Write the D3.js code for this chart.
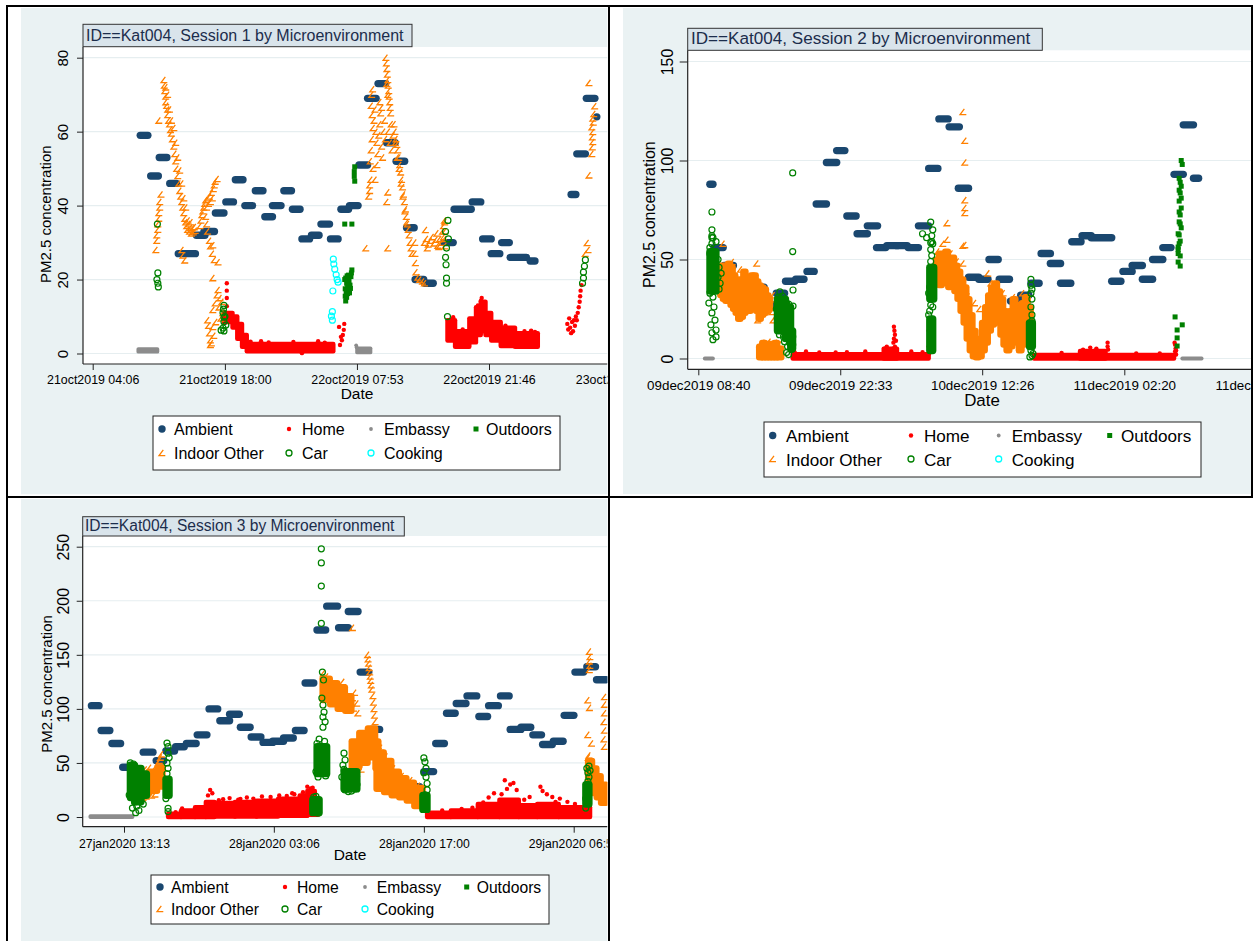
<!DOCTYPE html>
<html>
<head>
<meta charset="utf-8">
<script src="https://cdn.jsdelivr.net/npm/d3@7"></script>
<style>
  body { margin: 0; background: #fff; }
  svg { display: block; }
</style>
</head>
<body>
<svg id="chart" width="1254" height="941"></svg>
<script>
// PM2.5 by microenvironment, participant Kat004, three sessions.
// Times are hours since midnight of each session's first day.
// Ambient readings: [startHour, endHour, value]; bands: [startHour, endHour, low, high]
// for stretches where minute readings pile up into a solid mass; points: [hour, value].

// ---------- Session 1 (21-23 Oct 2019) ----------
const s1TickHours = [4.1, 18.0, 31.883, 45.767, 59.65];
const s1TickLabels = ["21oct2019 04:06", "21oct2019 18:00", "22oct2019 07:53", "22oct2019 21:46", "23oct2019 11:39"];
const s1YTicks = [0, 20, 40, 60, 80];

const s1Ambient = [[9.1,9.9,59],[10.2,11.0,48],[11.1,11.9,53],[12.2,12.9,46],[13.1,14.9,27],[15.0,15.9,32],[15.8,16.9,33],[17.0,17.9,38],[18.1,18.9,41],[19.1,19.9,47],[20.1,20.9,40],[21.2,22.0,44],[22.2,23.0,37],[23.0,23.9,40],[24.2,25.0,44],[25.1,25.9,39],[26.1,26.9,31],[27.1,27.9,32],[28.1,29.0,35],[29.1,29.9,31],[30.2,31.0,39],[31.1,32.0,40],[32.1,33.0,51],[33.0,33.9,69],[34.1,34.9,73],[35.0,35.9,57],[36.0,36.9,52],[37.1,37.9,34],[38.0,38.9,20],[39.0,39.9,19],[41.0,42.0,30],[42.1,43.9,39],[44.0,44.9,41],[45.1,46.0,31],[46.0,46.9,27],[47.1,47.9,30],[48.0,49.7,26],[50.1,50.6,25],[54.4,54.9,43],[55.0,55.9,54],[56.0,56.9,69],[57.1,57.1,64]];
const s1HomeBands = [[17.9,18.8,8.5,11],[18.8,19.3,7,10],[19.3,19.8,4,8],[19.8,20.3,1.8,5],[20.3,29.4,0.6,2.6],[41.4,42.2,3.5,9],[42.2,43.7,1.8,6],[43.7,44.4,3,9.5],[44.4,44.9,5,12.5],[44.9,45.4,6,14],[45.4,46.0,5,11],[46.0,47.0,3.5,8.5],[47.0,48.5,2,7],[48.5,50.9,1.8,5.5]];
const s1HomePts = [[18.2,19],[18.2,17],[18.2,15],[18.2,12.8],[20.7,3.2],[21.8,3.3],[22.6,3.0],[25.2,3.1],[27.8,3.3],[28.5,2.9],[26.1,0.1],[30.0,7.2],[30.1,2.3],[30.3,3.6],[30.4,5],[30.5,6.4],[30.55,8],[30.2,4.5],[45.0,15],[44.9,14.2],[45.2,13.5],[44.6,13],[42.0,9.8],[41.5,8.5],[43.0,6.5],[47.5,7.5],[48.0,6.8],[49.5,6],[50.2,6.2],[50.6,5.8],[54.0,8],[54.1,6.5],[54.2,9.5],[54.3,7],[54.4,5.5],[54.5,8.5],[54.6,6],[54.7,9],[54.8,7.5],[54.9,10],[55.0,9],[55.1,11],[55.2,12.5],[55.3,14],[55.35,15.5],[55.4,17],[55.5,18.5]];
const s1EmbassyBands = [[8.9,10.9,0.5,1.2],[31.9,33.3,0.3,1.4]];
const s1EmbassyPts = [[31.8,2.2],[31.85,1.7]];
const s1OutdoorPts = [[30.6,35],[31.35,35],[31.65,50.5],[31.6,49.2],[31.6,47.9],[31.65,46.6],[30.6,20],[30.7,20.4],[30.8,19],[30.9,18],[31.0,17],[31.1,16.4],[30.65,17.5],[30.75,16.5],[30.85,21],[30.95,20],[31.05,19.5],[31.15,18.5],[31.25,20.8],[31.3,21.8],[31.35,22.6],[31.2,17.6],[30.7,14.2],[30.8,15.2],[30.65,15.5],[31.0,21.2],[30.9,16.2]];
const s1IndoorBands = [];
const s1IndoorPts = [[11.07,63],[10.76,28],[10.86,30.5],[10.86,32],[10.97,33.5],[10.97,35],[11.07,36.5],[11.07,38],[11.17,39.5],[11.17,41],[11.3,43],
  [11.6,74],[11.65,72.5],[11.7,71],[11.8,69.5],[11.8,68],[11.9,67],[12.0,66],[12.0,64.5],[12.1,63],[12.2,62],[12.3,60.5],[12.4,59.5],[12.5,58],[12.65,56],[12.75,54],[12.85,52],[12.95,50],[13.06,48],[13.17,46],[13.27,44],[13.38,42.5],[13.48,41],[13.59,39.5],[13.7,38],[13.8,36.5],[13.9,35.5],
  [11.8,72],[12.0,70],[12.2,66],[12.4,63],[12.65,61],[12.85,57],[13.06,53],[13.27,49.5],[13.48,46],[13.7,42],[13.9,39.5],
  [14.0,34.5],[14.1,33.5],[14.2,35],[14.3,33],[14.4,34],[14.5,32.5],[14.6,33.8],[14.7,32.8],[14.8,34.2],[14.9,33.2],[14.15,36],[14.45,35.5],
  [13.5,28],[13.6,26.5],[13.8,25.2],
  [15.4,34.5],[15.5,36],[15.6,37.5],[15.7,38.5],[15.8,39.5],[15.9,40.5],[16.0,41.5],[16.2,42],[16.4,42.5],[16.6,43.5],[16.8,44.5],[16.9,45.5],[17.0,46.5],[17.2,47.2],[16.1,39.5],[16.3,40.5],[16.5,41],[16.7,42],
  [16.0,37],[16.1,35],[16.2,33],[16.4,30.5],[16.5,29],[16.7,27],[16.9,25.3],[17.3,24.7],[16.75,29.3],
  [16.75,20.4],[17.3,17.2],[17.2,15.8],[17.0,13.6],[16.75,11.8],[16.2,9],[16.75,7.2],[16.4,5.5],[16.5,3.6],[16.5,2.3],[17.7,14],[17.8,11],[17.5,15],[17.4,12.5],[17.6,9.5],[17.05,8.5],[16.85,4.8],[16.6,2.8],[16.3,7.5],
  [32.83,28.5],[33.14,42.5],[33.24,44],[33.35,47],[33.24,45.5],[35.14,43.6],[35.03,41],[35.14,28.5],
  [33.3,52],[33.4,55],[33.5,58],[33.6,61],[33.7,63],[33.5,64.5],[33.8,66],[33.9,60],[34.0,57],[34.1,54],[34.2,59],[34.3,62],[34.4,65],[34.5,56],[34.6,53],[34.7,60],[34.8,63],[34.9,58],[33.6,50],[33.8,47],[34.0,51],[33.45,70],[33.55,71.5],[33.4,67],[34.3,68],[34.5,66.5],[35.2,60],[35.4,57],[35.5,62],[35.6,55],[35.7,59],
  [34.95,80],[35.0,78.5],[35.05,77],[35.1,75.5],[35.15,74],[35.2,72.5],[35.25,71],[35.3,69.5],[35.35,68],[35.4,66.5],[35.45,65],[35.05,73],[35.15,70],
  [35.8,62],[35.9,60],[36.0,58],[36.1,56.5],[36.2,55],[36.3,53],[36.4,51],[36.5,49],[36.6,47],[36.7,45],[36.8,43],[36.9,41],[37.0,39],[37.1,37],[37.2,35],[37.3,33.5],[37.4,32],[37.5,30],[37.6,28.5],[37.7,27],[35.95,57],[36.15,53],[36.35,50],[36.55,46],[36.75,42.5],[36.95,38.5],[37.15,35.5],
  [37.98,30],[38.0,27],[38.05,24.5],[38.1,22],[38.3,20.6],[38.5,20],[38.8,19.5],[39.0,19],
  [39.0,30],[39.2,31],[39.4,29.5],[39.6,30.5],[39.8,31.5],[40.0,29.8],[40.2,30.8],[40.4,29.2],[40.6,31],[40.8,30],[41.0,31.5],[39.3,28.5],[40.5,28.8],[40.9,33],[41.0,34.5],[41.1,36],[40.3,32.5],[39.1,33.4],[41.13,35.5],[41.13,33],[41.13,31],[41.13,29],
  [56.3,73.2],[56.9,66.9],[56.7,63.6],[56.6,61.2],[56.7,59.9],[56.65,58.5],[56.7,57.2],[56.65,55.8],[56.3,48.2],[56.1,29.9],[56.2,28],[56.8,64.8],[56.75,62.5],[56.6,54],[55.9,27]];
const s1CarBands = [];
const s1CarPts = [[10.9,35],[10.95,21.8],[10.85,20],[10.95,19],[11.0,18],[17.9,13],[17.8,11],[17.9,9.8],[17.9,8.6],[18.1,7.7],[17.8,6.9],[17.9,6.1],[17.6,6.3],[17.85,12],[18.0,10],[41.45,36],[41.5,31],[41.3,28.5],[41.2,26],[41.25,24],[41.3,20.4],[41.3,19],[41.4,10],[41.2,33],[55.9,25.3],[55.8,23.6],[55.7,22],[55.7,20.4],[55.6,19]];
const s1CookingPts = [[29.4,25.5],[29.45,24.2],[29.55,22.8],[29.7,21.3],[29.8,20],[29.9,19.3],[29.35,16.9],[29.3,11.3],[29.2,10.1],[29.3,9]];

// ---------- Session 2 (9-11 Dec 2019) ----------
const s2TickHours = [8.667, 22.55, 36.433, 50.333, 64.217];
const s2TickLabels = ["09dec2019 08:40", "09dec2019 22:33", "10dec2019 12:26", "11dec2019 02:20", "11dec2019 16:13"];
const s2YTicks = [0, 50, 100, 150];

const s2Ambient = [[9.8,10.1,88],[10.2,11.1,56],[11.2,12.1,47],[13.3,14.0,39],[14.3,15.1,36],[15.3,16.1,27],[16.3,17.1,33],[17.2,18.1,39],[18.2,19.0,40],[19.3,20.0,44],[20.2,21.2,78],[21.2,22.2,99],[22.2,23.0,105],[23.2,24.1,72],[24.2,25.2,63],[25.2,26.2,67],[26.1,27.0,56],[27.1,28.1,57],[28.1,29.1,57],[29.2,30.2,56],[30.2,31.2,67],[31.2,32.1,96],[32.2,33.1,121],[33.2,34.2,117],[34.1,35.1,86],[35.1,36.1,41],[36.1,37.0,40],[37.1,38.0,50],[38.1,39.1,40],[39.2,40.1,29],[40.2,41.0,32],[41.2,42.0,38],[42.2,43.1,53],[43.1,44.1,48],[44.1,45.1,38],[45.2,46.1,59],[46.2,47.1,62],[47.1,49.1,61],[49.1,50.0,39],[50.2,51.1,44],[51.1,52.1,47],[52.1,53.1,40],[53.1,54.1,50],[54.1,54.9,56],[55.2,56.1,93],[56.1,57.1,118],[57.1,57.6,91]];
const s2HomeBands = [[17.9,31.2,0,2.2],[26.8,28.1,0,5],[41.5,55.2,0,1.8],[46.0,48.5,0,3.8]];
const s2HomePts = [[17.85,9],[17.9,6.5],[18.0,4.5],[18.1,3],[27.8,16],[27.85,14],[27.9,12],[27.8,10],[27.75,8],[27.9,6],[27.7,5],[28.0,9],[28.05,4.5],[26.9,5],[27.1,6],[27.3,4.5],[25.0,3.5],[23.2,3.2],[20.5,3],[19.2,3.5],[22.1,3],[29.5,3.5],[30.6,3.2],[31.2,14],[31.25,11],[31.3,8],[31.2,6],[31.3,4],[31.25,2.5],[48.7,8],[48.7,6],[48.75,4.5],[47.0,5.5],[47.6,5],[46.3,4.5],[44.2,2.8],[51.5,2.6],[53.8,2.5],[55.3,7],[55.35,5],[55.3,3.5],[55.4,2],[55.25,8],[55.4,4]];
const s2EmbassyBands = [[9.3,10.1,0,0],[56.0,57.9,0,0]];
const s2EmbassyPts = [];
const s2OutdoorPts = [[55.9,100],[56.0,98],[55.7,91],[55.9,87],[55.8,83.6],[55.7,79.5],[55.9,76],[55.8,72.5],[55.7,69],[55.9,66],[55.7,62.4],[55.8,59.3],[55.6,56.3],[55.6,55],[55.8,51.8],[55.6,48.7],[55.8,46.7],[55.3,21],[56.0,17],[55.5,14.4],[55.5,10.4],[55.5,6.3],[55.6,63],[55.8,68],[55.7,74],[55.9,81],[55.7,85],[55.8,89],[55.6,53],[55.7,58]];
const s2IndoorBands = [[10.8,11.05,32,47],[11.05,11.3,30,45],[11.3,11.55,29,43],[11.55,11.8,30,48],[11.8,12.05,27,46],[12.05,12.3,25,42],[12.3,12.55,23,40],[12.55,12.8,20,37],[12.8,13.05,21,40],[13.05,13.3,23,44],[13.3,13.55,24,41],[13.55,13.8,24,40],[13.8,14.05,26,42],[14.05,14.3,27,42],[14.3,14.55,24,39],[14.55,14.8,20,37],[14.8,15.05,22,36],[15.05,15.3,23,35],[15.3,15.55,24,32],[15.55,15.7,25,30],
  [14.6,14.9,0.5,6],[14.9,15.2,0.5,8],[15.2,15.5,0.5,5],[15.5,15.8,0.5,7.5],[15.8,16.1,0.5,4.5],[16.1,16.4,0.5,8],[16.4,16.8,0.5,5],
  [31.9,32.2,40,50],[32.2,32.5,37,53],[32.5,32.8,39,51],[32.8,33.1,38,54],[33.1,33.4,36,49],[33.4,33.7,37,51],[33.7,34.0,34,47],[34.0,34.3,30,44],[34.3,34.6,24,40],[34.6,34.9,18,36],[34.9,35.2,10,30],[35.2,35.5,4,22],[35.5,35.8,1,14],[35.8,36.1,0.5,8],[36.1,36.4,1,10],[36.4,36.7,4,18],[36.7,37.0,8,26],[37.0,37.3,14,32],[37.3,37.6,17,36],[37.6,37.9,20,38],[37.9,38.2,18,34],[38.2,38.5,12,30],[38.5,38.8,7,24],[38.8,39.1,4,20],[39.1,39.4,6,24],[39.4,39.7,10,30],[39.7,40.0,8,27],[40.0,40.3,4,22],[40.3,40.6,7,28],[40.6,40.9,10,31],[40.9,41.2,12,26]];
const s2IndoorPts = [[11.1,58],[14.4,48],[14.5,19.4],[16.0,19.4],[15.9,23.5],[16.0,32],[13.3,39.6],[12.0,48.7],[11.1,47],[12.8,45],[15.8,30],[14.7,7],[15.0,8],[15.3,6.5],[15.6,8.5],[15.9,7],[16.2,8],[16.5,6],[16.7,7.5],[14.9,6],[15.5,7.5],[34.56,124.5],[34.75,110],[34.75,99],[34.75,80],[34.75,76],[34.75,73.5],[33.0,68.4],[33.0,60],[34.75,57.3],[32.6,58],[34.56,57],[34.56,48],[37.0,43],[37.3,38],[37.8,36],[38.5,33],[39.5,31],[40.4,33],[40.8,30],[36.2,25],[35.7,28],[34.9,34],[41.0,22],[41.2,18],[32.1,54],[33.4,53],[34.0,49]];
const s2CarBands = [[9.8,10.4,34,54],[16.4,17.2,14,30],[17.2,17.7,10,26],[17.7,17.9,5,14],[31.3,31.7,30,46],[31.3,31.6,4,20],[41.05,41.35,6,18]];
const s2CarPts = [[10.0,74],[10.0,65],[10.0,62],[10.0,61],[10.4,59],[10.0,58],[10.1,61],[10.0,48],[10.0,36],[10.1,31],[10.2,26],[10.3,19.4],[10.4,14.4],[10.4,10.9],[9.8,56],[9.8,53],[9.9,44],[9.9,40],[9.8,33],[9.7,28],[10.0,23],[9.9,17],[10.0,13],[10.1,9.5],[10.6,50],[10.7,46],[10.6,41],[10.8,38],[10.7,35],[10.9,43],[17.9,93.7],[17.9,54],[16.65,33.6],[17.93,34.6],[17.93,26.5],[16.3,25],[16.4,20],[16.5,31],[16.9,31.5],[17.3,28],[17.5,27.5],[17.6,8],[17.4,6],[17.3,3],[17.5,2],[17.8,4.5],[17.9,7],[17.9,11],[16.6,12],[17.0,11],[17.1,8.5],[31.4,68.9],[31.6,65],[31.5,62],[31.5,59],[31.6,58],[30.6,63],[31.0,61],[31.4,58.5],[31.3,24],[31.4,27],[31.2,22],[31.6,26],[31.4,55],[31.5,52],[31.4,49],[31.3,36],[31.2,33],[41.2,40],[41.2,37],[41.3,35],[41.2,33],[41.3,30],[41.2,26],[41.3,22],[41.3,19],[41.2,16],[41.3,13],[41.2,10],[41.3,7],[41.2,4],[41.3,1.5],[41.1,0.8],[41.4,2.5]];
const s2CookingPts = [];

// ---------- Session 3 (27-29 Jan 2020) ----------
const s3TickHours = [13.217, 27.1, 41.0, 54.883];
const s3TickLabels = ["27jan2020 13:13", "28jan2020 03:06", "28jan2020 17:00", "29jan2020 06:53"];
const s3YTicks = [0, 50, 100, 150, 200, 250];

const s3Ambient = [[10.2,10.9,103],[11.1,11.9,80],[12.1,12.9,68],[13.1,13.7,46],[15.0,15.9,60],[16.2,16.9,52],[17.1,17.9,61],[18.0,18.8,65],[19.0,19.9,68],[20.0,20.9,76],[21.1,21.9,100],[22.1,23.0,89],[23.0,23.9,95],[24.0,24.9,83],[25.0,25.9,74],[26.1,27.0,69],[27.0,28.0,70],[28.0,28.9,73],[29.1,29.9,80],[30.0,30.8,124],[31.1,31.9,173],[32.0,33.0,195],[33.1,34.0,175],[34.0,34.9,190],[35.1,35.9,134],[36.1,36.9,81],[38.0,38.9,31],[38.9,39.8,30],[39.8,40.6,28],[41.0,41.9,42],[42.1,42.9,68],[43.1,43.9,96],[44.0,44.9,105],[45.0,45.9,112],[46.1,46.9,93],[47.0,47.9,103],[48.1,48.9,112],[49.0,50.0,81],[50.0,50.9,83],[51.1,51.9,76],[52.0,52.9,67],[53.0,53.9,70],[54.0,54.9,94],[55.0,55.8,134],[56.1,56.9,139],[57.0,57.9,127]];
const s3HomeBands = [[17.3,18.5,0,3],[18.5,19.8,0,6],[19.8,20.8,0,9],[20.8,21.6,0,14],[21.6,23.5,0.5,13],[23.5,25.5,0.5,14],[25.5,27.5,0.5,15],[27.5,29.5,1,17],[29.5,30.2,1,20],[30.2,30.9,2,24],[30.9,31.2,2,14],[41.3,43.5,0,4],[43.5,46.0,0,6],[46.0,48.0,0,12],[48.0,49.8,0,16],[49.8,51.5,0,11],[51.5,53.5,0,12],[53.5,56.4,0,9]];
const s3HomePts = [[21.2,25],[21.4,22],[21.0,20],[22.4,16.5],[23.0,17.5],[23.8,16],[24.6,18],[25.2,17],[26.0,19],[26.8,18.5],[27.6,20],[28.3,19.5],[29.0,21],[29.8,23],[30.2,28],[30.5,26.5],[30.7,27],[18.6,8],[18.0,4.5],[22.0,15.5],[24.0,16.8],[28.8,22],[47.0,18],[47.5,22],[48.2,21],[48.7,26],[49.0,30],[49.3,31.5],[49.6,25],[48.5,34],[50.8,18.5],[51.8,28],[52.0,24],[52.9,18.5],[53.6,17],[54.3,14],[55.0,12],[44.5,7.5],[42.7,6],[45.5,8.5],[46.5,13.5],[50.3,16],[52.4,21],[53.2,14]];
const s3EmbassyBands = [[10.1,14.0,0,0.8]];
const s3EmbassyPts = [];
const s3OutdoorPts = [];
const s3IndoorBands = [[14.7,15.5,22,40],[15.5,16.3,24,42],[16.3,16.8,28,46],[31.6,32.3,108,128],[32.3,33.0,104,124],[33.0,33.7,100,120],[33.7,34.3,98,112],[34.3,35.0,45,70],[35.0,35.8,50,78],[35.8,36.5,55,82],[36.5,36.8,45,70],[36.6,37.3,26,60],[37.3,38.0,23,52],[38.0,38.7,20,42],[38.7,39.4,18,36],[39.4,40.1,15,32],[40.1,40.9,10,27],[56.2,56.6,28,52],[56.6,57.0,22,45],[57.0,57.4,18,38],[57.4,57.9,13,30]];
const s3IndoorPts = [[16.5,52],[16.6,55],[16.4,50],[16.7,58],[15.0,18],[15.3,19],[15.8,20],[16.1,21],[14.8,43],[15.2,44],[15.6,45.5],[16.0,44],[31.7,133],[32.0,130],[33.5,125],[34.4,110],[34.8,105],[34.5,100.5],[34.4,175],[34.6,115],[34.9,96],[35.8,150],[35.85,146],[35.9,142],[35.95,138],[36.0,134],[36.05,130],[36.1,126],[36.15,122],[36.2,118],[36.3,112],[36.35,106],[36.4,100],[36.45,94],[36.5,88],[34.5,42],[34.8,40],[35.2,44],[36.8,66],[37.0,64],[37.5,56],[38.2,45],[39.0,38],[39.8,34],[40.5,29],[56.35,153],[56.4,148],[56.35,144],[56.4,140],[56.35,136],[56.2,108],[56.36,101],[56.2,76],[56.55,68],[57.75,111],[57.75,104],[57.75,96],[57.7,88],[57.75,80],[57.7,72],[57.75,65],[56.25,55],[56.3,57]];
const s3CarBands = [[13.8,14.2,18,48],[14.2,14.8,14,45],[14.8,15.3,20,40],[17.1,17.4,20,35],[31.1,32.0,40,65],[30.7,31.3,4,16],[33.6,34.8,26,42],[40.9,41.3,7,20],[56.0,56.3,12,30]];
const s3CarPts = [[13.8,50],[13.9,22],[14.0,8.3],[14.2,13.9],[13.7,20.3],[14.4,10],[14.6,6],[15.0,12],[14.3,4],[13.9,47],[14.1,49],[17.2,68.4],[17.3,65],[17.3,59],[17.3,45],[17.2,40],[17.2,34],[17.2,28],[17.2,22],[17.1,17],[17.3,8],[17.3,5],[17.2,50],[17.4,55],[31.5,248],[31.5,235],[31.5,213.6],[31.5,179],[31.6,134],[31.7,126.7],[31.55,110],[31.65,103.6],[31.75,97],[31.65,92.5],[31.85,88],[31.65,83],[31.1,68],[31.3,72],[31.8,70],[31.2,37],[31.0,42],[31.9,38],[30.8,18.5],[31.0,19],[31.2,3.7],[33.6,59],[33.7,52.7],[33.5,48],[33.6,44],[33.7,25],[34.0,23.5],[34.3,24],[34.6,26],[34.8,30],[33.4,37],[41.0,54.6],[41.1,51],[41.2,45],[41.0,41],[41.2,37],[41.3,31],[41.3,25],[41.1,20.5],[41.1,15.7],[41.0,9.2],[56.1,45],[56.2,41],[56.3,37],[56.2,33],[56.1,29],[56.2,25],[56.1,21],[56.0,17],[56.1,13],[56.0,8.3],[56.3,47],[56.4,43]];
const s3CookingPts = [];

const legendNames = ["Ambient", "Home", "Embassy", "Outdoors", "Indoor Other", "Car", "Cooking"];

// ---------- styling ----------
const FONT = '"Liberation Sans", Arial, Helvetica, sans-serif';
const COL = {
  navy: "#1a476f", red: "#ff0000", gray: "#8c8c8c", green: "#008000",
  orange: "#ff8000", cyan: "#00ffff", region: "#eaf2f3", grid: "#e6eef0",
  titleFill: "#d9e4eb", titleText: "#1c2d4c", axis: "#222"
};
const MK = { ambientR: 3.7, homeR: 2.2, embassyR: 1.9, square: 5, hollowR: 3.0 };

// xPx: pixel positions of the first and fourth tick
const panels = [
  {
    title: "ID==Kat004, Session 1 by Microenvironment",
    region: [21, 8, 586.5, 486.5],
    plot: { left: 83, top: 47, bottom: 364 },
    titleBox: [83, 24.3, 329, 22.4], titleAt: [86, 40.6], titleFs: 16,
    ticks: s1TickHours, tickLabels: s1TickLabels, xPx: [92.7, 489], xLabelY: 384, xFs: 12.4,
    yTicks: s1YTicks, yPx: [353.5, 57.7], yLabelX: 68.3, yFs: 15, yTickLen: 6,
    yTitleAt: [51, 283], yTitleFs: 15, dateAt: [357, 399], dateFs: 15.5,
    legend: { box: [153, 416, 407, 54], mx: [162, 289, 371, 476], tx: [174, 302, 384, 486], my: [429, 453], ty: [435, 459], fs: 16 },
    ambient: s1Ambient, homeBands: s1HomeBands, homePts: s1HomePts, embassyBands: s1EmbassyBands, embassyPts: s1EmbassyPts,
    outdoorPts: s1OutdoorPts, indoorBands: s1IndoorBands, indoorPts: s1IndoorPts, carBands: s1CarBands, carPts: s1CarPts, cookingPts: s1CookingPts
  },
  {
    title: "ID==Kat004, Session 2 by Microenvironment",
    region: [623, 8, 628.5, 486],
    plot: { left: 687.7, top: 50.3, bottom: 369.3 },
    titleBox: [687.7, 28.3, 354.6, 22], titleAt: [691, 44.4], titleFs: 17.1,
    ticks: s2TickHours, tickLabels: s2TickLabels, xPx: [698.3, 1124.3], xLabelY: 390, xFs: 13.4,
    yTicks: s2YTicks, yPx: [358.5, 61.5], yLabelX: 673.3, yFs: 15.8, yTickLen: 8,
    yTitleAt: [655, 288], yTitleFs: 16, dateAt: [982, 406], dateFs: 16.9,
    legend: { box: [764, 422, 437, 55], mx: [772.7, 911, 998.7, 1109.7], tx: [786, 924, 1011.7, 1121], my: [435.5, 459], ty: [441.5, 465.5], fs: 17.1 },
    ambient: s2Ambient, homeBands: s2HomeBands, homePts: s2HomePts, embassyBands: s2EmbassyBands, embassyPts: s2EmbassyPts,
    outdoorPts: s2OutdoorPts, indoorBands: s2IndoorBands, indoorPts: s2IndoorPts, carBands: s2CarBands, carPts: s2CarPts, cookingPts: s2CookingPts
  },
  {
    title: "ID==Kat004, Session 3 by Microenvironment",
    region: [21, 499, 586.5, 442],
    plot: { left: 82.7, top: 536, bottom: 826.7 },
    titleBox: [82.7, 516.7, 321.6, 19.3], titleAt: [85, 530.8], titleFs: 15.6,
    ticks: s3TickHours, tickLabels: s3TickLabels, xPx: [124, 573.7], xLabelY: 848, xFs: 12.2,
    yTicks: s3YTicks, yPx: [817, 546.7], yLabelX: 69, yFs: 16, yTickLen: 6,
    yTitleAt: [52, 752.7], yTitleFs: 15, dateAt: [350, 860], dateFs: 15.5,
    legend: { box: [151, 875, 398, 49], mx: [160, 285, 365, 466.7], tx: [171, 297, 376.7, 476.7], my: [887, 909], ty: [893, 915], fs: 15.7 },
    ambient: s3Ambient, homeBands: s3HomeBands, homePts: s3HomePts, embassyBands: s3EmbassyBands, embassyPts: s3EmbassyPts,
    outdoorPts: s3OutdoorPts, indoorBands: s3IndoorBands, indoorPts: s3IndoorPts, carBands: s3CarBands, carPts: s3CarPts, cookingPts: s3CookingPts
  }
];

const svg = d3.select("#chart");
svg.append("rect").attr("width", 1254).attr("height", 941).attr("fill", "#fff");
const defs = svg.append("defs");

// "Indoor Other" marker: open angle glyph
function angle(cx, cy) {
  return `M${cx + 1.3},${cy - 3.1}L${cx - 3},${cy + 2.7}L${cx + 3.3},${cy + 2.7}`;
}

function bandRects(g, data, x, y, pad, color) {
  g.selectAll(null).data(data).join("rect")
    .attr("x", d => x(d[0]) - pad)
    .attr("width", d => x(d[1]) - x(d[0]) + 2 * pad)
    .attr("y", d => y(d[3]) - pad)
    .attr("height", d => y(d[2]) - y(d[3]) + 2 * pad)
    .attr("rx", pad).attr("fill", color);
}

function legendMarker(g, kind, cx, cy) {
  if (kind === 0) g.append("circle").attr("cx", cx).attr("cy", cy).attr("r", MK.ambientR).attr("fill", COL.navy);
  if (kind === 1) g.append("circle").attr("cx", cx).attr("cy", cy).attr("r", MK.homeR).attr("fill", COL.red);
  if (kind === 2) g.append("circle").attr("cx", cx).attr("cy", cy).attr("r", MK.embassyR).attr("fill", COL.gray);
  if (kind === 3) g.append("rect").attr("x", cx - MK.square / 2).attr("y", cy - MK.square / 2).attr("width", MK.square).attr("height", MK.square).attr("fill", COL.green);
  if (kind === 4) g.append("path").attr("d", angle(cx, cy)).attr("fill", "none").attr("stroke", COL.orange).attr("stroke-width", 1.3);
  if (kind === 5) g.append("circle").attr("cx", cx).attr("cy", cy).attr("r", MK.hollowR).attr("fill", "none").attr("stroke", COL.green).attr("stroke-width", 1.3);
  if (kind === 6) g.append("circle").attr("cx", cx).attr("cy", cy).attr("r", MK.hollowR).attr("fill", "none").attr("stroke", COL.cyan).attr("stroke-width", 1.3);
}

panels.forEach((p, i) => {
  const [rx, ry, rw, rh] = p.region;
  const clipId = "region-clip-" + i;
  defs.append("clipPath").attr("id", clipId).append("rect").attr("x", rx).attr("y", ry).attr("width", rw).attr("height", rh);
  const g = svg.append("g").attr("clip-path", `url(#${clipId})`).attr("font-family", FONT);

  g.append("rect").attr("x", rx).attr("y", ry).attr("width", rw).attr("height", rh).attr("fill", COL.region);

  const x = d3.scaleLinear().domain([p.ticks[0], p.ticks[3]]).range(p.xPx);
  const y = d3.scaleLinear().domain([0, p.yTicks[p.yTicks.length - 1]]).range(p.yPx);
  const right = rx + rw;

  // plot area and gridlines
  g.append("rect").attr("x", p.plot.left).attr("y", p.plot.top)
    .attr("width", right - p.plot.left).attr("height", p.plot.bottom - p.plot.top).attr("fill", "#fff");
  g.selectAll(null).data(p.yTicks).join("line")
    .attr("x1", p.plot.left).attr("x2", right).attr("y1", d => y(d)).attr("y2", d => y(d))
    .attr("stroke", COL.grid).attr("stroke-width", 1.2);

  // series
  const m = g.append("g");
  m.selectAll(null).data(p.ambient).join("line")
    .attr("x1", d => x(d[0])).attr("x2", d => x(d[1])).attr("y1", d => y(d[2])).attr("y2", d => y(d[2]))
    .attr("stroke", COL.navy).attr("stroke-width", 2 * MK.ambientR).attr("stroke-linecap", "round");

  bandRects(m, p.homeBands, x, y, MK.homeR, COL.red);
  m.selectAll(null).data(p.homePts).join("circle")
    .attr("cx", d => x(d[0])).attr("cy", d => y(d[1])).attr("r", MK.homeR).attr("fill", COL.red);

  bandRects(m, p.embassyBands, x, y, MK.embassyR, COL.gray);
  m.selectAll(null).data(p.embassyPts).join("circle")
    .attr("cx", d => x(d[0])).attr("cy", d => y(d[1])).attr("r", MK.embassyR).attr("fill", COL.gray);

  m.selectAll(null).data(p.outdoorPts).join("rect")
    .attr("x", d => x(d[0]) - MK.square / 2).attr("y", d => y(d[1]) - MK.square / 2)
    .attr("width", MK.square).attr("height", MK.square).attr("fill", COL.green);

  bandRects(m, p.indoorBands, x, y, 3, COL.orange);
  m.selectAll(null).data(p.indoorPts).join("path")
    .attr("d", d => angle(x(d[0]), y(d[1])))
    .attr("fill", "none").attr("stroke", COL.orange).attr("stroke-width", 1.3);

  bandRects(m, p.carBands, x, y, 3.6, COL.green);
  m.selectAll(null).data(p.carPts).join("circle")
    .attr("cx", d => x(d[0])).attr("cy", d => y(d[1])).attr("r", MK.hollowR)
    .attr("fill", "none").attr("stroke", COL.green).attr("stroke-width", 1.2);

  m.selectAll(null).data(p.cookingPts).join("circle")
    .attr("cx", d => x(d[0])).attr("cy", d => y(d[1])).attr("r", MK.hollowR)
    .attr("fill", "none").attr("stroke", COL.cyan).attr("stroke-width", 1.2);

  // axes
  const gx = g.append("g").attr("transform", `translate(0,${p.plot.bottom})`)
    .call(d3.axisBottom(x).tickValues(p.ticks).tickFormat((d, k) => p.tickLabels[k]).tickSize(6).tickSizeOuter(0));
  gx.select(".domain").remove();
  gx.attr("font-family", FONT).attr("font-size", p.xFs);
  gx.selectAll(".tick line").attr("stroke", COL.axis);
  gx.selectAll(".tick text").attr("y", p.xLabelY - p.plot.bottom).attr("dy", null).attr("fill", "#000");

  const gy = g.append("g").attr("transform", `translate(${p.plot.left},0)`)
    .call(d3.axisLeft(y).tickValues(p.yTicks).tickSize(p.yTickLen).tickSizeOuter(0));
  gy.select(".domain").remove();
  gy.attr("font-family", FONT).attr("font-size", p.yFs).attr("text-anchor", "middle");
  gy.selectAll(".tick line").attr("stroke", COL.axis);
  gy.selectAll(".tick text").attr("x", null).attr("dy", null).attr("fill", "#000")
    .attr("transform", `translate(${p.yLabelX - p.plot.left},0) rotate(-90)`);

  g.append("line").attr("x1", p.plot.left).attr("x2", right).attr("y1", p.plot.bottom).attr("y2", p.plot.bottom)
    .attr("stroke", COL.axis).attr("stroke-width", 1.2);
  g.append("line").attr("x1", p.plot.left).attr("x2", p.plot.left).attr("y1", p.plot.top).attr("y2", p.plot.bottom)
    .attr("stroke", COL.axis).attr("stroke-width", 1.2);

  // axis titles
  g.append("text").attr("transform", `translate(${p.yTitleAt[0]},${p.yTitleAt[1]}) rotate(-90)`)
    .attr("font-size", p.yTitleFs).attr("fill", "#000").text("PM2.5 concentration");
  g.append("text").attr("x", p.dateAt[0]).attr("y", p.dateAt[1]).attr("text-anchor", "middle")
    .attr("font-size", p.dateFs).attr("fill", "#000").text("Date");

  // by-group title box
  const [bx, by, bw, bh] = p.titleBox;
  g.append("rect").attr("x", bx).attr("y", by).attr("width", bw).attr("height", bh)
    .attr("fill", COL.titleFill).attr("stroke", "#333").attr("stroke-width", 1);
  g.append("text").attr("x", p.titleAt[0]).attr("y", p.titleAt[1]).attr("font-size", p.titleFs)
    .attr("fill", COL.titleText).text(p.title);

  // legend
  const L = p.legend;
  const lg = g.append("g");
  lg.append("rect").attr("x", L.box[0]).attr("y", L.box[1]).attr("width", L.box[2]).attr("height", L.box[3])
    .attr("fill", "#fff").attr("stroke", "#222").attr("stroke-width", 1);
  legendNames.forEach((name, k) => {
    const row = k < 4 ? 0 : 1, col = k < 4 ? k : k - 4;
    legendMarker(lg, k, L.mx[col], L.my[row]);
    lg.append("text").attr("x", L.tx[col]).attr("y", L.ty[row]).attr("font-size", L.fs).attr("fill", "#000").text(name);
  });
});

// table rules around the three graphs
const rules = [
  [7, 5, 7, 941], [609, 5, 609, 941], [1252, 5, 1252, 498],
  [6, 6, 1253, 6], [6, 497, 1253, 497]
];
svg.append("g").selectAll("line").data(rules).join("line")
  .attr("x1", d => d[0]).attr("y1", d => d[1]).attr("x2", d => d[2]).attr("y2", d => d[3])
  .attr("stroke", "#000").attr("stroke-width", 2);
</script>
</body>
</html>
